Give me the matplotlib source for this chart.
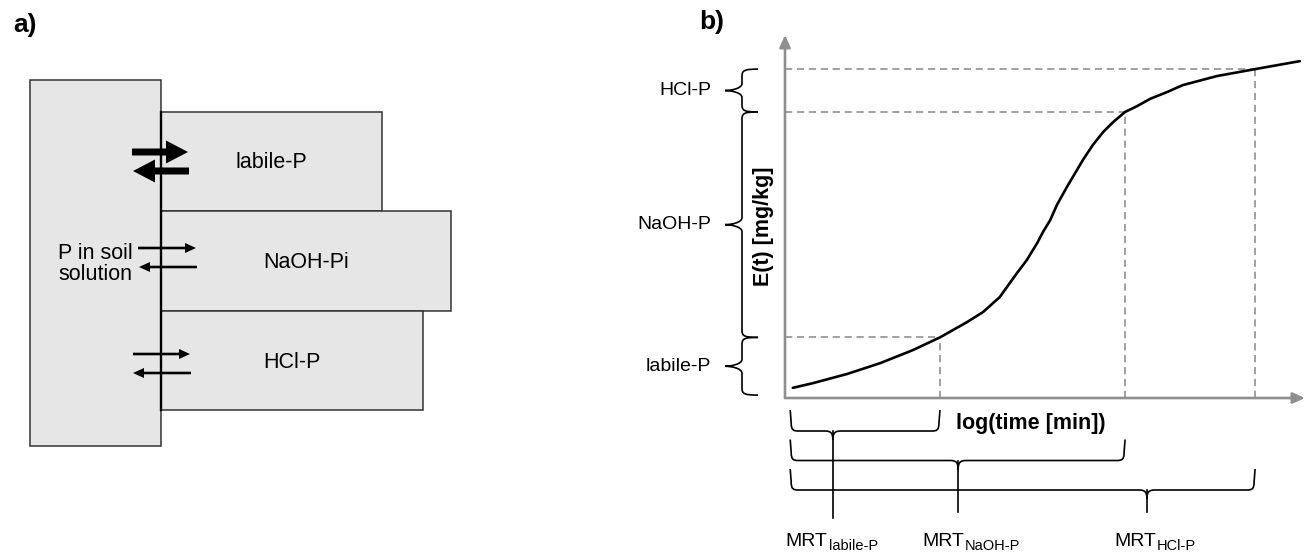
import numpy as np
import matplotlib.pyplot as plt
from matplotlib.path import Path
from matplotlib.patches import PathPatch, Rectangle, FancyArrow

plt.rcParams['font.family'] = ['Liberation Sans', 'DejaVu Sans']

# Daten Teil b): Kurve E(t) ueber log(time)
curve_logt = [0.15, 0.54, 1.19, 1.83, 2.46, 2.98, 3.50, 3.81, 4.13, 4.46, 4.65,
              4.85, 4.96, 5.10, 5.23, 5.42, 5.73, 5.92, 6.12, 6.31, 6.54, 6.77,
              7.02, 7.35, 7.65, 8.31, 9.04, 9.90]
curve_E = [2.8, 4.1, 6.6, 9.6, 13.2, 16.7, 20.9, 23.7, 27.8, 34.4, 38.0,
           42.7, 45.7, 49.0, 53.2, 58.1, 65.6, 69.7, 73.3, 76.0, 78.8, 80.4,
           82.4, 84.3, 86.2, 88.7, 90.6, 92.8]

pool_names = ['labile-P', 'NaOH-P', 'HCl-P']
pool_bounds = [0.8, 16.7, 78.8, 90.6]     # E-Grenzen der Pools
fill_logt = [2.98, 6.54, 9.04]            # Zeitpunkt, an dem der Pool voll ist
mrt_logt = [0.92, 3.33, 6.96]             # mittlere Verweilzeit
mrt_subs = ['labile-P', 'NaOH-P', 'HCl-P']

# Daten Teil a)
box_names = ['labile-P', 'NaOH-Pi', 'HCl-P']

W, H = 1307, 557
fig = plt.figure(figsize=(W / 100, H / 100), dpi=100)

# Achse fuer Teil b)
axb = fig.add_axes([785 / W, (H - 398) / H, 520 / W, 363 / H])
axb.set_xlim(0, 10)
axb.set_ylim(0, 100)
axb.axis('off')

# Overlay in Pixelkoordinaten fuer Schema und Beschriftung
ov = fig.add_axes([0, 0, 1, 1])
ov.set_xlim(0, W)
ov.set_ylim(H, 0)
ov.axis('off')


def to_px(x, y):
    dx, dy = axb.transData.transform((x, y))
    return dx, H - dy


# --- Teil b) ---
ax_col = '#8f8f8f'
for xy in [(10, 0), (0, 100)]:
    axb.annotate('', xy=xy, xytext=(0, 0), annotation_clip=False,
                 arrowprops=dict(arrowstyle='-|>,head_length=0.4,head_width=0.18',
                                 mutation_scale=18, color=ax_col, lw=1.9,
                                 shrinkA=0, shrinkB=0))

dash = dict(color='#999999', lw=1.3, ls=(0, (4, 2.6)))
for i in range(3):
    axb.plot([0, fill_logt[i]], [pool_bounds[i + 1]] * 2, **dash)
    axb.plot([fill_logt[i]] * 2, [0, pool_bounds[i + 1]], **dash)

axb.plot(curve_logt, curve_E, color='black', lw=1.9, solid_capstyle='round',
         solid_joinstyle='round', zorder=5)


def vbrace(x, y0, y1, hook=16, cusp=17, r=7):
    ym = (y0 + y1) / 2
    verts = [(x + hook, y0), (x + 3, y0), (x, y0 + 1), (x, y0 + r),
             (x, ym - r),
             (x, ym - 2), (x - cusp + 6, ym), (x - cusp, ym),
             (x - cusp + 6, ym), (x, ym + 2), (x, ym + r),
             (x, y1 - r),
             (x, y1 - 1), (x + 3, y1), (x + hook, y1)]
    codes = [Path.MOVETO] + [Path.CURVE4] * 3 + [Path.LINETO] + [Path.CURVE4] * 6 + \
            [Path.LINETO] + [Path.CURVE4] * 3
    ov.add_patch(PathPatch(Path(verts, codes), fc='none', ec='black', lw=1.2))
    return ym


def hbrace(x0, x1, xm, y_top, y_h, r=8, cusp=9):
    verts = [(x0, y_top), (x0 + 1, y_h - r),
             (x0 + 1, y_h - 1), (x0 + 3, y_h), (x0 + r, y_h),
             (xm - r, y_h),
             (xm - 2, y_h), (xm, y_h + 2), (xm, y_h + cusp),
             (xm, y_h + 2), (xm + 2, y_h), (xm + r, y_h),
             (x1 - r, y_h),
             (x1 - 3, y_h), (x1 - 1, y_h - 1), (x1 - 1, y_h - r),
             (x1, y_top)]
    codes = [Path.MOVETO, Path.LINETO] + [Path.CURVE4] * 3 + [Path.LINETO] + \
            [Path.CURVE4] * 6 + [Path.LINETO] + [Path.CURVE4] * 3 + [Path.LINETO]
    ov.add_patch(PathPatch(Path(verts, codes), fc='none', ec='black', lw=1.2))


# Klammern links (Pools)
for i in range(3):
    y_top = to_px(0, pool_bounds[i + 1])[1]
    y_bot = to_px(0, pool_bounds[i])[1]
    ym = vbrace(742, y_top, y_bot)
    ov.text(711, ym, pool_names[i], ha='right', va='center', fontsize=14)

# Klammern unten (MRT)
tip_end = [518, 512, 512]
shift = [47, 36, 33]
for i in range(3):
    x0 = to_px(0.1, 0)[0]
    x1 = to_px(fill_logt[i], 0)[0]
    xm = to_px(mrt_logt[i], 0)[0]
    y_h = 431 + 29.5 * i
    hbrace(x0, x1, xm, y_h - 21, y_h)
    ov.plot([xm, xm], [y_h, tip_end[i]], color='black', lw=1.2)
    t = ov.text(xm - shift[i], 546, 'MRT', ha='left', va='baseline', fontsize=14)
    fig.canvas.draw()
    bb = t.get_window_extent()
    ov.text(bb.x1 + 1, 550, mrt_subs[i], ha='left', va='baseline', fontsize=10.5)

ov.text(763, 226, 'E(t) [mg/kg]', rotation=90, ha='center', va='center',
        fontsize=15.5, fontweight='bold')
ov.text(1031, 424, 'log(time [min])', ha='center', va='center',
        fontsize=15.5, fontweight='bold')
ov.text(699, 22, 'b)', ha='left', va='center', fontsize=19, fontweight='bold')

# --- Teil a) ---
ov.text(13, 25, 'a)', ha='left', va='center', fontsize=19, fontweight='bold')
box_fc = '#e6e6e6'
box_ec = '#333333'
ov.add_patch(Rectangle((30, 80), 131, 366, fc=box_fc, ec=box_ec, lw=1.1))
box_right = [382, 451, 423]
for i, name in enumerate(box_names):
    top = 112 + 99.3 * i
    ov.add_patch(Rectangle((161, top), box_right[i] - 161, 99.3, fc=box_fc, ec=box_ec, lw=1.1))
ov.plot([161, 161], [112, 410], color='black', lw=1.7)

ov.text(271, 163, box_names[0], ha='center', va='center', fontsize=15.5)
ov.text(306, 263, box_names[1], ha='center', va='center', fontsize=15.5)
ov.text(292, 363, box_names[2], ha='center', va='center', fontsize=15.5)
ov.text(95, 264, 'P in soil\nsolution', ha='center', va='center', fontsize=15.5,
        linespacing=1.0)

# Pfeile (Austausch)
thick = dict(width=7, head_width=23, head_length=22, length_includes_head=True,
             fc='black', ec='none')
thin = dict(width=2.6, head_width=10, head_length=11, length_includes_head=True,
            fc='black', ec='none')
ov.add_patch(FancyArrow(132, 152, 56, 0, **thick))
ov.add_patch(FancyArrow(189, 171, -56, 0, **thick))
ov.add_patch(FancyArrow(138, 248, 58, 0, **thin))
ov.add_patch(FancyArrow(197, 267, -58, 0, **thin))
ov.add_patch(FancyArrow(133, 354, 57, 0, **thin))
ov.add_patch(FancyArrow(191, 373, -58, 0, **thin))

fig.savefig('out.png', dpi=100, facecolor='white')
